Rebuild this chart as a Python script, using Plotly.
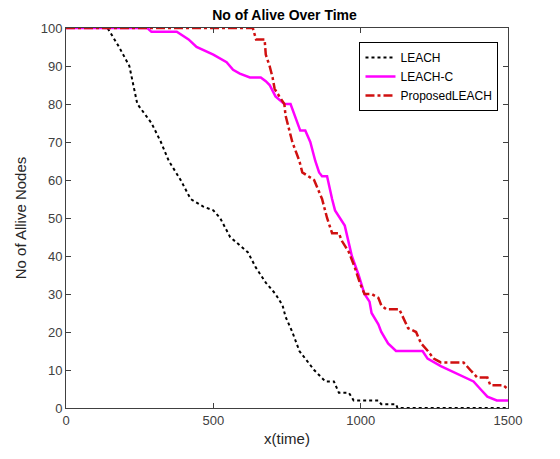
import plotly.graph_objects as go

# LEACH (black dotted)
leach_x = [0, 141, 180, 215, 242, 290, 322, 349, 389, 423, 466, 500, 523, 557, 617, 644, 678,
           711, 735, 745, 768, 792, 842, 880, 909, 926, 960, 976, 1060, 1070, 1120, 1125, 1500]
leach_y = [100, 100, 95, 90, 80, 75, 70, 65, 60, 55, 53, 52, 50, 45, 41, 37, 33,
           30, 27, 24, 20, 15, 10, 7, 7, 4, 4, 2, 2, 1, 1, 0, 0]

# LEACH-C (magenta solid)
leachc_x = [0, 276, 290, 376, 416, 443, 500, 545, 567, 590, 624, 661, 678, 691, 711, 741, 762,
            775, 795, 812, 829, 846, 859, 869, 886, 903, 913, 946, 960, 970, 993, 1013, 1030,
            1037, 1060, 1070, 1093, 1120, 1210, 1227, 1272, 1328, 1350, 1383, 1406, 1430,
            1462, 1500]
leachc_y = [100, 100, 99, 99, 97, 95, 93, 91, 89, 88, 87, 87, 86, 85, 82, 80, 80,
            77, 73, 73, 70, 65, 62, 61, 61, 55, 52, 48, 43, 40, 35, 30, 28,
            25, 22, 20, 17, 15, 15, 13, 11, 9, 8, 7, 5, 3,
            2, 2]

# ProposedLEACH (red dash-dot)
prop_x = [0, 634, 645, 674, 678, 691, 701, 708, 724, 741, 745, 758, 768, 792, 802, 842, 869,
          886, 903, 926, 936, 960, 980, 997, 1013, 1037, 1060, 1070, 1087, 1131, 1161, 1188,
          1205, 1228, 1248, 1272, 1349, 1372, 1396, 1430, 1440, 1483, 1500]
prop_y = [100, 100, 97, 97, 93, 90, 87, 84, 82, 80, 77, 73, 70, 65, 62, 60, 55,
          50, 46, 46, 44, 41, 37, 33, 30, 30, 29, 27, 26, 26, 21, 20,
          17, 15, 13, 12, 12, 10, 8, 8, 6, 6, 5]

x_ticks = [0, 500, 1000, 1500]
y_ticks = [0, 10, 20, 30, 40, 50, 60, 70, 80, 90, 100]

font_family = "Liberation Sans, Arial, sans-serif"
axis_col = "#404040"

fig = go.Figure()
fig.add_trace(go.Scatter(x=leach_x, y=leach_y, mode="lines", name="LEACH",
                         line=dict(color="black", width=2, dash="dot")))
fig.add_trace(go.Scatter(x=leachc_x, y=leachc_y, mode="lines", name="LEACH-C",
                         line=dict(color="#ff00ff", width=2.5)))
fig.add_trace(go.Scatter(x=prop_x, y=prop_y, mode="lines", name="ProposedLEACH",
                         line=dict(color="#d01010", width=2.5, dash="dashdot")))

axis_common = dict(
    showgrid=False, zeroline=False, showline=True, linecolor=axis_col, linewidth=1,
    mirror="ticks", ticks="inside", ticklen=5, tickcolor=axis_col,
    tickfont=dict(size=13, color=axis_col, family=font_family),
)

# page body has an 8px margin, so the figure is offset by 8px
fig.update_layout(
    width=560, height=459,
    margin=dict(l=53, r=60, t=20, b=59),
    paper_bgcolor="white", plot_bgcolor="white",
    font=dict(family=font_family, color="#262626"),
    title=dict(text="<b>No of Alive Over Time</b>", x=(53 + 447 / 2) / 560, xanchor="center",
               y=1 - 2 / 459, yanchor="top", pad=dict(t=0, b=0),
               font=dict(size=14, color="black")),
    xaxis=dict(range=[0, 1500], tickvals=x_ticks,
               title=dict(text="x(time)", font=dict(size=15, color="#262626"), standoff=6),
               **axis_common),
    yaxis=dict(range=[0, 100], tickvals=y_ticks,
               title=dict(text="No of Allive Nodes", font=dict(size=15, color="#262626"), standoff=10),
               **axis_common),
    legend=dict(x=0.664, y=0.963, xanchor="left", yanchor="top",
                bordercolor="black", borderwidth=1, bgcolor="white",
                font=dict(size=12, color="black", family=font_family),
                tracegroupgap=0, itemwidth=30),
    showlegend=True,
)

fig.write_html("out.html")
